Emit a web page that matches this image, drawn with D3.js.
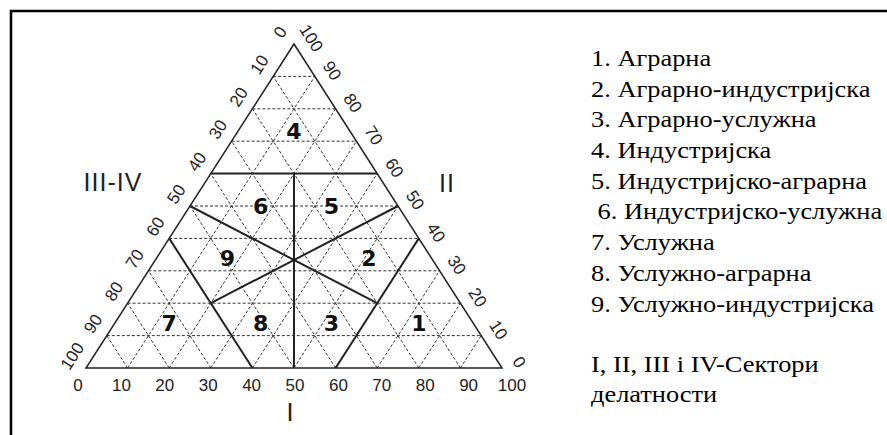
<!DOCTYPE html>
<html lang="sr">
<head>
<meta charset="UTF-8">
<title>Типови привреде</title>
<script src="https://d3js.org/d3.v7.min.js"></script>
<style>
  body { margin: 0; background: #fff; }
  text { white-space: pre; }
</style>
</head>
<body>
<div id="chart"></div>
<script>
// tick values on the three sides of the triangle
var ticks = [0, 10, 20, 30, 40, 50, 60, 70, 80, 90, 100];

// region numbers and where they sit (base %, height %)
var regionNames  = ["1", "2", "3", "4", "5", "6", "7", "8", "9"];
var regionBase   = [80, 68, 59, 50, 59, 42, 20, 42, 34];
var regionHeight = [14, 34, 14, 73, 50, 50, 14, 14, 34];

// solid borders between the types: [base, height] -> [base, height]
var borderFrom = [[30, 60], [50, 60], [20, 40], [80, 40], [25, 50], [75, 50]];
var borderTo   = [[70, 60], [50, 0],  [40, 0],  [60, 0],  [70, 20], [30, 20]];

var legendItems = [
  "1. Аграрна",
  "2. Аграрно-индустријска",
  "3. Аграрно-услужна",
  "4. Индустријска",
  "5. Индустријско-аграрна",
  " 6. Индустријско-услужна",
  "7. Услужна",
  "8. Услужно-аграрна",
  "9. Услужно-индустријска"
];
var sectorNote = ["I, II, III i IV-Сектори", "делатности"];

var W = 887, H = 435;

var svg = d3.select("#chart").append("svg")
    .attr("width", W)
    .attr("height", H);

// frame (open at right and bottom, cut by the page)
svg.append("path")
    .attr("d", "M11," + H + "V11H" + W)
    .attr("fill", "none")
    .attr("stroke", "#000")
    .attr("stroke-width", 2.5);

var x = d3.scaleLinear().domain([0, 100]).range([86, 502]);
var y = d3.scaleLinear().domain([0, 100]).range([368, 44]);
var xLab = d3.scaleLinear().domain([0, 100]).range([78, 512]);

var line = d3.line()
    .x(function(d) { return x(d[0]); })
    .y(function(d) { return y(d[1]); });

var inner = ticks.slice(1, ticks.length - 1);

// dashed grid
var grid = [];
inner.forEach(function(t) {
  grid.push([[t / 2, t], [100 - t / 2, t]]);                 // horizontal
  grid.push([[t, 0], [t + (100 - t) / 2, 100 - t]]);         // up to the right
  grid.push([[t, 0], [t / 2, t]]);                           // up to the left
});

svg.append("g").selectAll("path")
    .data(grid)
    .join("path")
    .attr("d", line)
    .attr("fill", "none")
    .attr("stroke", "#333")
    .attr("stroke-width", 1)
    .attr("stroke-dasharray", "3,2");

// outline
svg.append("path")
    .attr("d", line([[0, 0], [100, 0], [50, 100]]) + "Z")
    .attr("fill", "none")
    .attr("stroke", "#222")
    .attr("stroke-width", 1.5);

// borders between the nine types
svg.append("g").selectAll("path")
    .data(borderFrom)
    .join("path")
    .attr("d", function(d, i) { return line([d, borderTo[i]]); })
    .attr("fill", "none")
    .attr("stroke", "#222")
    .attr("stroke-width", 2);

// region numbers
svg.append("g").selectAll("text")
    .data(regionNames)
    .join("text")
    .attr("x", function(d, i) { return x(regionBase[i]); })
    .attr("y", function(d, i) { return y(regionHeight[i]); })
    .attr("dy", "0.36em")
    .attr("text-anchor", "middle")
    .attr("font-family", "'DejaVu Sans', sans-serif")
    .attr("font-weight", "bold")
    .attr("font-size", 22)
    .attr("fill", "#111")
    .text(function(d) { return d; });

var tickFont = "'Liberation Sans', Arial, sans-serif";
var ang = Math.atan2(y(100) - y(0), x(50) - x(0)) * 180 / Math.PI;

// bottom axis (I)
svg.append("g").selectAll("text")
    .data(ticks)
    .join("text")
    .attr("x", function(d) { return xLab(d); })
    .attr("y", y(0) + 23)
    .attr("text-anchor", "middle")
    .attr("font-family", tickFont)
    .attr("font-size", 17)
    .attr("fill", "#222")
    .text(function(d) { return d; });

// left side (III-IV): 0 at the top, 100 at the bottom
svg.append("g").selectAll("text")
    .data(ticks)
    .join("text")
    .attr("transform", function(d) {
      var h = 100 - d;
      return "translate(" + (x(h / 2) - 14) + "," + (y(h) - 12) + ") rotate(" + ang + ")";
    })
    .attr("dy", "0.36em")
    .attr("text-anchor", "middle")
    .attr("font-family", tickFont)
    .attr("font-size", 17)
    .attr("fill", "#222")
    .text(function(d) { return d; });

// right side (II): 100 at the top, 0 at the bottom
svg.append("g").selectAll("text")
    .data(ticks)
    .join("text")
    .attr("transform", function(d) {
      return "translate(" + (x(100 - d / 2) + 17.5) + "," + (y(d) - 6) + ") rotate(" + (-ang) + ")";
    })
    .attr("dy", "0.36em")
    .attr("text-anchor", "middle")
    .attr("font-family", tickFont)
    .attr("font-size", 17)
    .attr("fill", "#222")
    .text(function(d) { return d; });

// side names
var sideFont = { "font-family": tickFont, "font-size": 25, "fill": "#222" };
function sideName(txt, px, py, ls) {
  var t = svg.append("text")
      .attr("x", px).attr("y", py)
      .attr("text-anchor", "middle")
      .attr("letter-spacing", ls)
      .text(txt);
  for (var k in sideFont) t.attr(k, sideFont[k]);
}
sideName("I", x(50) - 4, y(0) + 53, 0);
sideName("III-IV", x(0) + 27, y(0) - 177, 1);
sideName("II", x(100) - 55, y(0) - 176, 1);

// legend (the scan is a bit wider than plain Times, so stretch it a little)
var legend = svg.append("g")
    .attr("transform", "translate(591,0) scale(1.1,1)")
    .attr("font-family", "'Liberation Serif', 'Times New Roman', serif")
    .attr("font-size", 24)
    .attr("fill", "#000");

legend.selectAll("text.item")
    .data(legendItems)
    .join("text")
    .attr("class", "item")
    .attr("x", 0)
    .attr("y", function(d, i) { return 66 + i * 30.7; })
    .text(function(d) { return d; });

legend.selectAll("text.note")
    .data(sectorNote)
    .join("text")
    .attr("class", "note")
    .attr("x", 0)
    .attr("y", function(d, i) { return 372 + i * 30.5; })
    .text(function(d) { return d; });
</script>
</body>
</html>
